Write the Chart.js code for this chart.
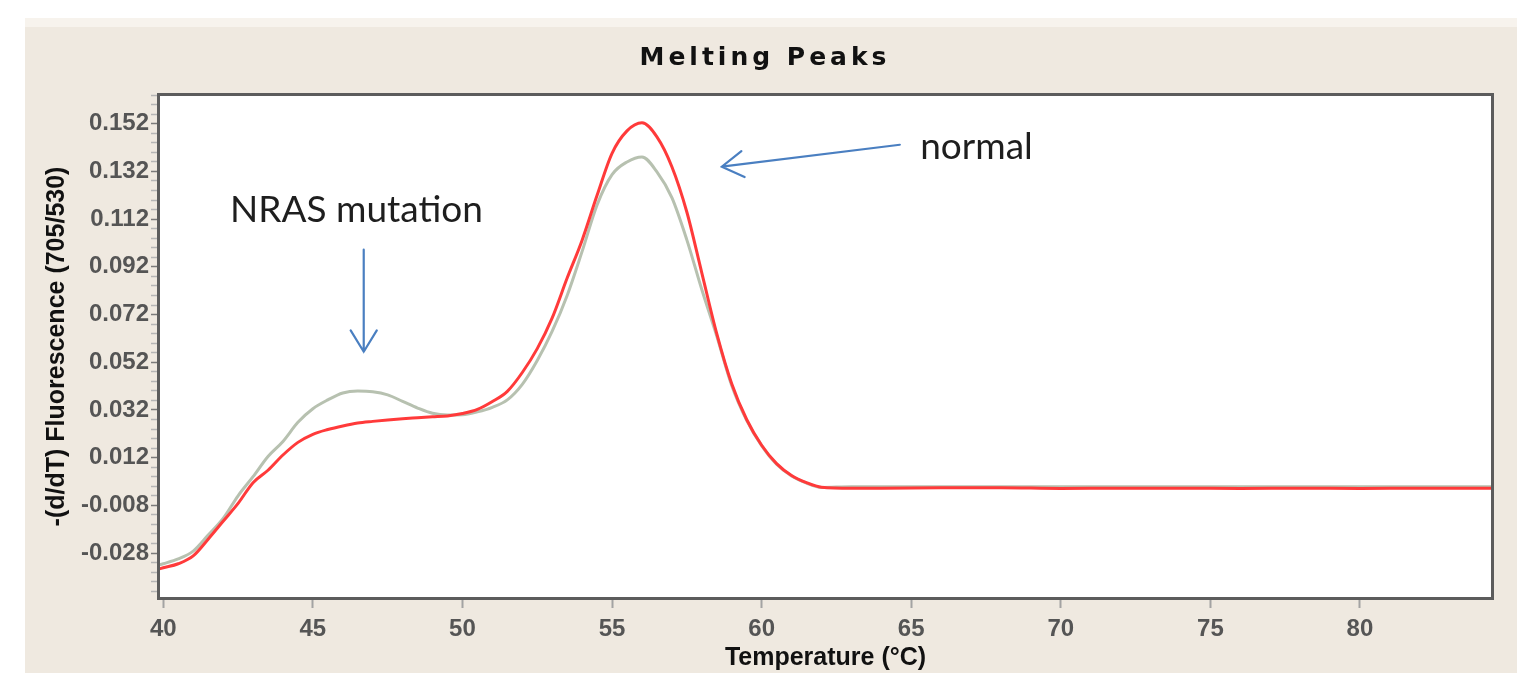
<!DOCTYPE html>
<html>
<head>
<meta charset="utf-8">
<script src="https://cdn.jsdelivr.net/npm/chart.js@4"></script>
<style>
  body { margin: 0; background: #fff; }
  .panel {
    position: absolute; left: 25px; top: 18px; width: 1492px; height: 655px;
    background: linear-gradient(#f7f3ed 0 9px, #efe9e0 9px);
  }
  canvas { display: block; }
</style>
</head>
<body>
<div class="panel"><canvas id="melt" width="1492" height="655"></canvas></div>
<script>
// temperatures (°C)
const temps = [39.8, 40, 40.5, 41, 41.5, 42, 42.5, 43, 43.5, 44, 44.5, 45, 45.5, 46, 46.5, 47, 47.5,
  48, 48.5, 49, 49.5, 50, 50.5, 51, 51.5, 52, 52.5, 53, 53.5, 54, 54.5, 55, 55.5, 56, 56.5,
  57, 57.5, 58, 58.5, 59, 59.5, 60, 60.5, 61, 61.5, 62, 63, 64, 66, 68, 70, 72, 74, 76, 78, 80, 82, 84.5];

// red curve (wild type / normal)
const normalCurve = [-0.0349, -0.0342, -0.0325, -0.0292, -0.0222, -0.0147, -0.0072, 0.0015, 0.0067, 0.0131,
  0.0184, 0.0218, 0.0238, 0.0253, 0.0265, 0.0272, 0.0278, 0.0283, 0.0287, 0.0291, 0.0295, 0.0305, 0.0322,
  0.0355, 0.0398, 0.0477, 0.0577, 0.0706, 0.0873, 0.1032, 0.1220, 0.1396, 0.1490, 0.1524, 0.1465, 0.1340,
  0.1150, 0.0895, 0.0640, 0.0430, 0.0280, 0.0172, 0.0095, 0.0045, 0.0015, -0.0004, -0.0008, -0.0008,
  -0.0006, -0.0006, -0.0009, -0.0008, -0.0008, -0.0009, -0.0008, -0.0009, -0.0008, -0.0008];

// grey curve (NRAS mutation sample)
const mutantCurve = [-0.0332, -0.0325, -0.0305, -0.0272, -0.0205, -0.0135, -0.0040, 0.0040, 0.0125, 0.0188,
  0.0268, 0.0325, 0.0362, 0.0391, 0.0399, 0.0396, 0.0383, 0.0356, 0.0328, 0.0306, 0.0299, 0.0300, 0.0312,
  0.0331, 0.0362, 0.0427, 0.0527, 0.0650, 0.0800, 0.0985, 0.1180, 0.1307, 0.1360, 0.1381, 0.1318, 0.1210,
  0.1033, 0.0825, 0.0630, 0.0422, 0.0276, 0.0170, 0.0092, 0.0043, 0.0013, -0.0005, -0.0002, -0.0002,
  -0.0002, -0.0002, -0.0002, -0.0002, -0.0002, -0.0002, -0.0002, -0.0002, -0.0002, -0.0002];

const xTicks = [40, 45, 50, 55, 60, 65, 70, 75, 80];
const yMajorTicks = [-0.028, -0.008, 0.012, 0.032, 0.052, 0.072, 0.092, 0.112, 0.132, 0.152];
const yMinorStep = 0.004;

// annotations in data units
const notes = [
  { text: 'NRAS mutation', x: 42.23, y: 0.1109 },
  { text: 'normal', x: 65.30, y: 0.1373 }
];
const arrows = [
  { from: [46.7, 0.0992], to: [46.7, 0.0564] },
  { from: [64.62, 0.1432], to: [58.67, 0.1340] }
];

const toPoints = vals => vals.map((v, i) => ({ x: temps[i], y: v }));
const isMajor = v => yMajorTicks.some(m => Math.abs(m - v) < 1e-6);

function drawArrow(ctx, x0, y0, x1, y1) {
  const ang = Math.atan2(y1 - y0, x1 - x0), h = 25, spread = 0.55;
  ctx.beginPath();
  ctx.moveTo(x0, y0);
  ctx.lineTo(x1, y1);
  ctx.moveTo(x1 - h * Math.cos(ang - spread), y1 - h * Math.sin(ang - spread));
  ctx.lineTo(x1, y1);
  ctx.lineTo(x1 - h * Math.cos(ang + spread), y1 - h * Math.sin(ang + spread));
  ctx.stroke();
}

const decor = {
  id: 'decor',
  beforeDraw(chart) {
    const { ctx, chartArea: a } = chart;
    ctx.save();
    ctx.fillStyle = '#fff';
    ctx.fillRect(a.left, a.top, a.right - a.left, a.bottom - a.top);
    ctx.restore();
  },
  afterDraw(chart) {
    const { ctx, chartArea: a, scales: { x, y } } = chart;
    ctx.save();
    // plot frame
    ctx.strokeStyle = '#5c5c5c';
    ctx.lineWidth = 3;
    ctx.strokeRect(a.left + 1.5, a.top + 1.5, a.right - a.left - 3, a.bottom - a.top - 3);

    // chart title
    ctx.fillStyle = '#111';
    ctx.font = 'bold 25px "DejaVu Sans"';
    ctx.textAlign = 'center';
    ctx.textBaseline = 'alphabetic';
    ctx.letterSpacing = '4px';
    ctx.fillText('Melting Peaks', 740, 47);
    ctx.letterSpacing = '0px';

    // hand-written notes
    ctx.textAlign = 'left';
    ctx.fillStyle = '#1e1e1e';
    ctx.font = '37px Lato';
    notes.forEach(n => ctx.fillText(n.text, x.getPixelForValue(n.x), y.getPixelForValue(n.y)));

    ctx.strokeStyle = '#4a7fc1';
    ctx.lineWidth = 2.2;
    ctx.lineCap = 'round';
    arrows.forEach(ar => drawArrow(ctx,
      x.getPixelForValue(ar.from[0]), y.getPixelForValue(ar.from[1]),
      x.getPixelForValue(ar.to[0]), y.getPixelForValue(ar.to[1])));
    ctx.restore();
  }
};

new Chart(document.getElementById('melt'), {
  type: 'line',
  data: {
    datasets: [
      { label: 'normal', data: toPoints(normalCurve), borderColor: '#ff3a3a', borderWidth: 3,
        pointRadius: 0, cubicInterpolationMode: 'monotone', fill: false },
      { label: 'NRAS mutation', data: toPoints(mutantCurve), borderColor: '#b7c1b0', borderWidth: 3,
        pointRadius: 0, cubicInterpolationMode: 'monotone', fill: false }
    ]
  },
  options: {
    responsive: false,
    animation: false,
    layout: { padding: { top: 75, right: 23, left: 0, bottom: 0 } },
    plugins: { legend: { display: false }, title: { display: false }, tooltip: { enabled: false } },
    scales: {
      x: {
        type: 'linear', min: 39.79, max: 84.48,
        afterBuildTicks: s => { s.ticks = xTicks.map(v => ({ value: v })); },
        afterFit: s => { s.height = 73; },
        border: { display: false },
        grid: { drawOnChartArea: false, tickLength: 8, tickWidth: 2, tickColor: '#a3a3a3' },
        ticks: { font: { family: 'Liberation Sans', size: 24, weight: 'bold' }, color: '#555', padding: 7,
          maxRotation: 0, autoSkip: false },
        title: { display: true, text: 'Temperature (°C)', color: '#111',
          font: { family: 'Liberation Sans', size: 25, weight: 'bold' }, padding: { top: 0, bottom: 0 } }
      },
      y: {
        min: -0.0477, max: 0.1649,
        afterBuildTicks: s => {
          const t = [];
          for (let v = yMajorTicks[0]; v <= s.max; v += yMinorStep) {
            if (v >= s.min) t.push({ value: Math.round(v * 10000) / 10000 });
          }
          for (let v = yMajorTicks[0] - yMinorStep; v >= s.min; v -= yMinorStep) {
            t.unshift({ value: Math.round(v * 10000) / 10000 });
          }
          s.ticks = t;
        },
        afterFit: s => { s.width = 132; },
        border: { display: false },
        grid: { drawOnChartArea: false, tickLength: 6, tickWidth: 1.5,
          tickColor: c => isMajor(c.tick.value) ? '#7a7a7a' : '#b5b5b5' },
        ticks: { font: { family: 'Liberation Sans', size: 24, weight: 'bold' }, color: '#555', padding: 2,
          autoSkip: false, callback: v => isMajor(v) ? v.toFixed(3) : '' },
        title: { display: true, text: '-(d/dT) Fluorescence (705/530)', color: '#111',
          font: { family: 'Liberation Sans', size: 25, weight: 'bold' }, padding: { top: 17, bottom: 0 } }
      }
    }
  },
  plugins: [decor]
});
</script>
</body>
</html>
